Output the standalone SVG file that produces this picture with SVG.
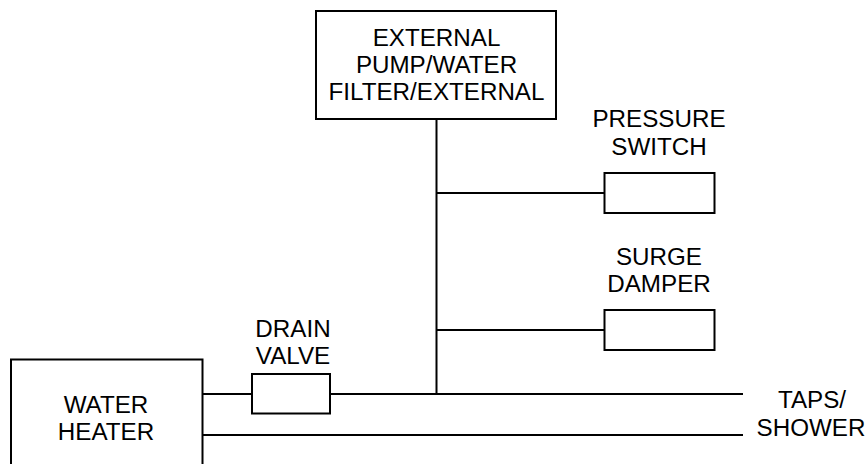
<svg xmlns="http://www.w3.org/2000/svg" width="867" height="464" viewBox="0 0 867 464">
<style>
.b{fill:#fff;stroke:#000;stroke-width:2}
.l{fill:none;stroke:#000;stroke-width:2}
text{font-family:"Liberation Sans",Arial,sans-serif;font-size:24.2px;fill:#000;text-anchor:middle}
</style>
<rect width="867" height="464" fill="#fff"/>
<g id="connectors">
<path class="l" d="M436.500 119V394M437 193H604M437 330H604M202 394H252M330 394H743M202 435H743"/>
</g>
<g id="pump"><rect class="b" x="316" y="11" width="240" height="108"/><text x="436.500" y="46">EXTERNAL</text><text x="436.500" y="73">PUMP/WATER</text><text x="436.500" y="100">FILTER/EXTERNAL</text></g>
<g id="pressure-switch"><rect class="b" x="604.500" y="173" width="110" height="40"/><text x="659" y="127">PRESSURE</text><text x="659" y="155">SWITCH</text></g>
<g id="surge-damper"><rect class="b" x="604.500" y="310" width="110" height="40"/><text x="659" y="265">SURGE</text><text x="659" y="292">DAMPER</text></g>
<g id="drain-valve"><rect class="b" x="252" y="374" width="78" height="39.500"/><text x="293" y="337">DRAIN</text><text x="293" y="364">VALVE</text></g>
<g id="water-heater"><rect class="b" x="11" y="359.500" width="191.500" height="110"/><text x="106" y="413">WATER</text><text x="106" y="440">HEATER</text></g>
<g id="taps"><text x="812" y="408">TAPS/</text><text x="811" y="436">SHOWER</text></g>
</svg>
